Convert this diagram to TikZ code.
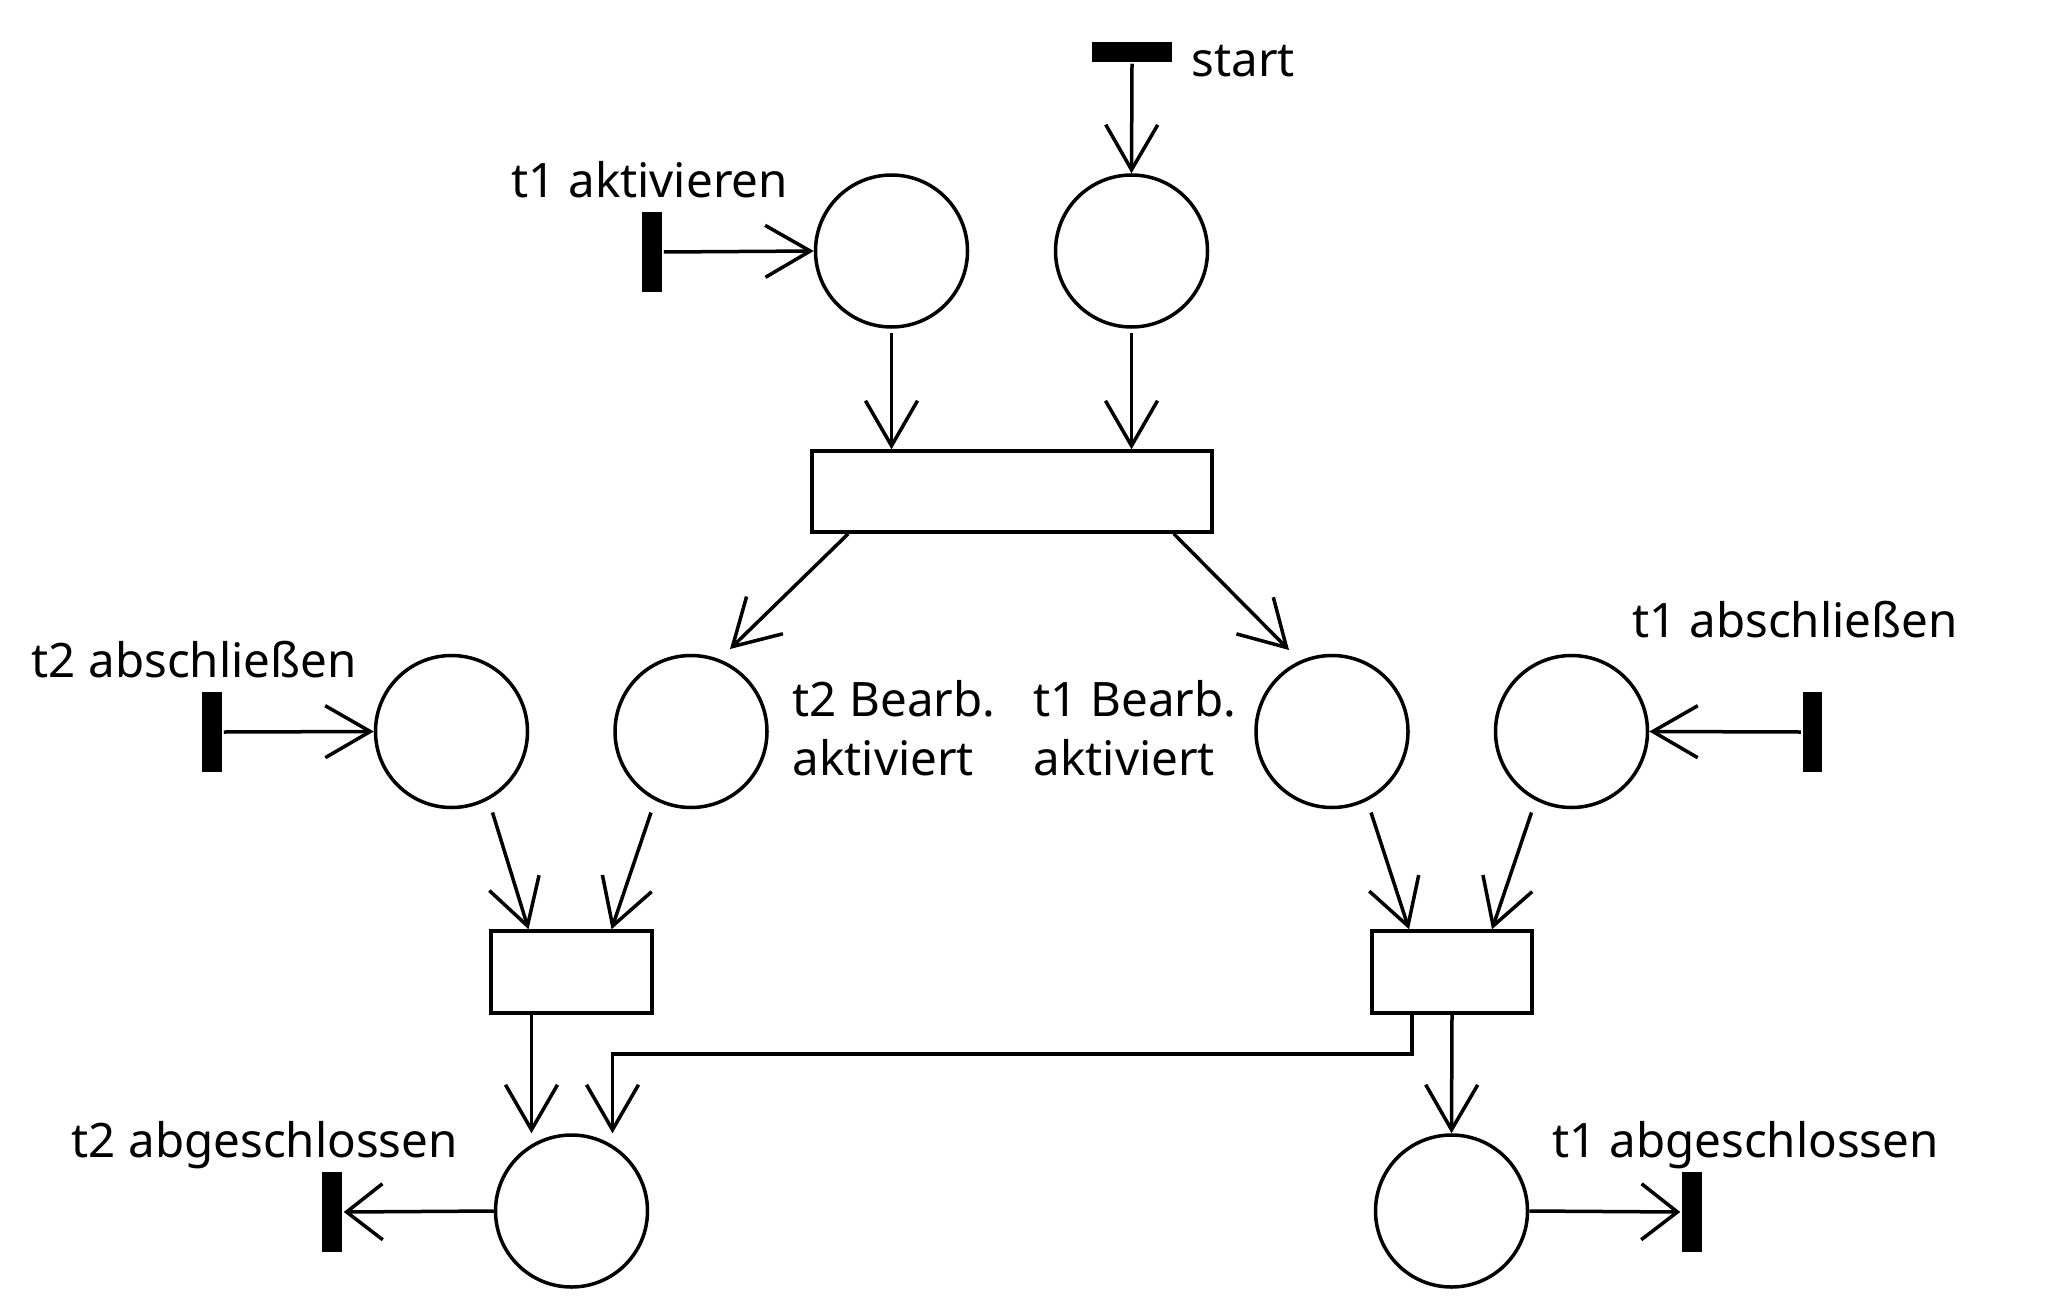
\documentclass[tikz,border=0pt]{standalone}
\usepackage{fontspec}
\setmainfont{Noto Sans}
\usetikzlibrary{arrows.meta}
\begin{document}
\begin{tikzpicture}[x=1pt,y=-1pt,
  line width=3.5pt,
  place/.style={draw,circle,minimum size=152pt,inner sep=0pt},
  trans/.style={draw,rectangle,inner sep=0pt},
  bar/.style={fill=black,rectangle,inner sep=0pt},
  arr/.style={-{Straight Barb[length=45pt,width=52pt]}},
  arrb/.style={-{Straight Barb[length=36pt,width=56pt]}},
  lbl/.style={font=\fontsize{47.5}{59}\selectfont,inner sep=0pt,anchor=base west,align=left}]
\useasboundingbox[fill=white] (0,0) rectangle (2060,1300);
% places
\node[place] (pA) at (891.5,251) {};
\node[place] (pS) at (1131.5,251) {};
\node[place] (p2a) at (451.5,731.5) {};
\node[place] (p2b) at (691,731.5) {};
\node[place] (p1b) at (1332,731.5) {};
\node[place] (p1a) at (1571.5,731.5) {};
\node[place] (p2c) at (571.5,1211) {};
\node[place] (p1c) at (1451.5,1211) {};
% transitions
\node[trans,minimum width=400pt,minimum height=81pt] (T0) at (1012,491.5) {};
\node[trans,minimum width=161pt,minimum height=82pt] (T2) at (571.5,972) {};
\node[trans,minimum width=160pt,minimum height=82pt] (T1) at (1452,972) {};
% bars
\node[bar,minimum width=80pt,minimum height=20pt] (barS) at (1132,52) {};
\node[bar,minimum width=20pt,minimum height=80pt] (barA) at (652,252) {};
\node[bar,minimum width=20pt,minimum height=80pt] (bar2a) at (212,732) {};
\node[bar,minimum width=19pt,minimum height=80pt] (bar1a) at (1812,732) {};
\node[bar,minimum width=20pt,minimum height=80pt] (bar2c) at (332,1212) {};
\node[bar,minimum width=20pt,minimum height=80pt] (bar1c) at (1692,1212) {};
% labels
\node[lbl] (lS) at (1190,77) {start};
\node[lbl] (lA) at (510,197) {t1 aktivieren};
\node[lbl] (l2a) at (30,677) {t2 abschließen};
\node[lbl] (l1a) at (1631,637) {t1 abschließen};
\node[lbl] (l2b) at (791,775) {t2 Bearb.\\aktiviert};
\node[lbl] (l1b) at (1032,775) {t1 Bearb.\\aktiviert};
\node[lbl] (l2c) at (70,1157) {t2 abgeschlossen};
\node[lbl] (l1c) at (1551,1157) {t1 abgeschlossen};
% arcs
\draw[arr] (barS.south) -- (pS.north);
\draw[arr] (barA.east) -- (pA.west);
\draw[arr] ([shift={(0,4)}]pA.south) -- (pA.south |- T0.north);
\draw[arr] ([shift={(0,4)}]pS.south) -- (pS.south |- T0.north);
\draw[arr] ([shift={(38,0)}]T0.south west) -- ([shift={(39,-82.5)}]p2b.center);
\draw[arr] ([shift={(-40,0)}]T0.south east) -- ([shift={(-43,-81.5)}]p1b.center);
\draw[arr] (bar2a.east) -- (p2a.west);
\draw[arr] (bar1a.west) -- (p1a.east);
\draw[arr] ([shift={(41,81)}]p2a.center) -- ([shift={(-43,0)}]T2.north);
\draw[arr] ([shift={(-40,81)}]p2b.center) -- ([shift={(40,0)}]T2.north);
\draw[arr] ([shift={(39,81)}]p1b.center) -- ([shift={(-43,0)}]T1.north);
\draw[arr] ([shift={(-40,81)}]p1a.center) -- ([shift={(40,0)}]T1.north);
\draw[arr] ([shift={(-40,0)}]T2.south) -- ([shift={(-40,0)}]T2.south |- p2c.north);
\draw[arr] (T1.south) -- (p1c.north);
\draw[arr] ([shift={(-40,0)}]T1.south) -- ++(0,39) -| ([shift={(41,0)}]p2c.north);
\draw[arrb] (p2c.west) -- (bar2c.east);
\draw[arrb] (p1c.east) -- (bar1c.west);
\end{tikzpicture}
\end{document}
